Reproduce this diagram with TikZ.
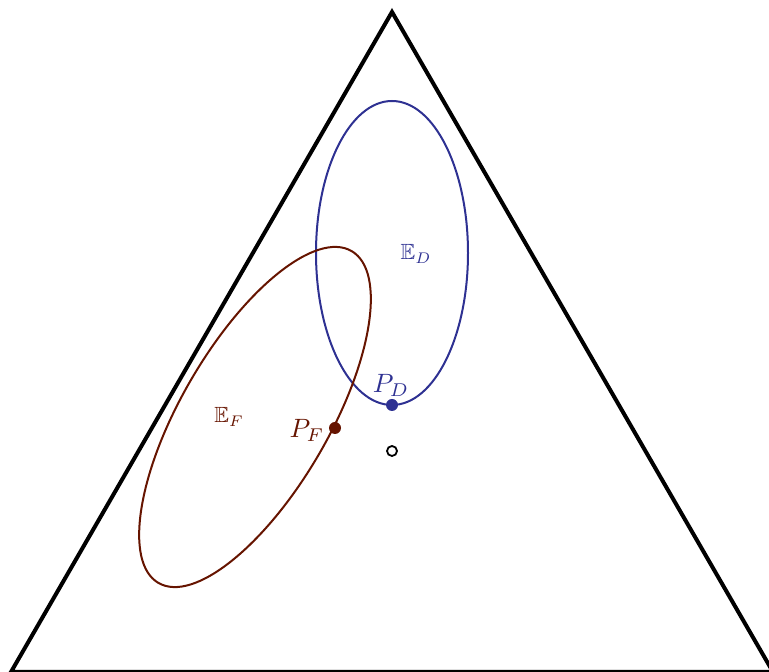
\documentclass[tikz,border=0pt]{standalone}
\usepackage{amssymb}
\definecolor{dblue}{RGB}{46,49,146}
\definecolor{dbrown}{RGB}{102,20,0}
\begin{document}
\begin{tikzpicture}[x=1pt,y=1pt,
  dot/.style={circle,fill,inner sep=0pt,minimum size=12pt},
  opendot/.style={circle,draw,line width=1.8pt,inner sep=0pt,minimum size=10pt},
  plabel/.style={scale=2.65},
  elabel/.style={scale=2.2}]
\useasboundingbox (0,0) rectangle (769,672);
\clip (0,0) rectangle (769,672);
\coordinate (A) at (11,0);
\coordinate (B) at (392,660);
\coordinate (C) at (773,0);
\draw[line width=4pt,line join=miter] (A) -- (B) -- (C) -- cycle;
\draw[dblue,line width=2pt] (392,419) ellipse [x radius=76, y radius=152];
\draw[dbrown,line width=2pt,rotate around={59.8:(255,255)}] (255,255) ellipse [x radius=192, y radius=74];
\node[dot,dblue] (PD) at (392,267) {};
\node[dot,dbrown] (PF) at (335,244) {};
\node[opendot] (O) at (392,221) {};
\node[plabel,text=dblue] (lPD) at (391,287) {$P_D$};
\node[plabel,text=dbrown] (lPF) at (307,242) {$P_F$};
\node[elabel,text=dblue] (lED) at (416,418) {$\mathbb{E}_D$};
\node[elabel,text=dbrown] (lEF) at (229,255) {$\mathbb{E}_F$};
\end{tikzpicture}
\end{document}
